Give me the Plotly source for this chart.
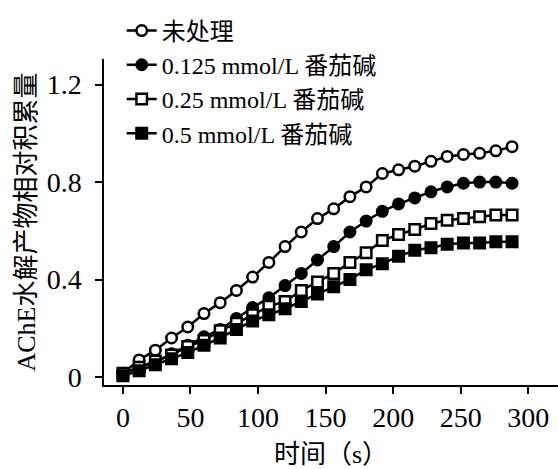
import plotly.graph_objects as go

time_s = [0, 12, 24, 36, 48, 60, 72, 84, 96, 108, 120, 132, 144, 156, 168, 180,
          192, 204, 216, 228, 240, 252, 264, 276, 288]

untreated = [0.015, 0.07, 0.11, 0.16, 0.205, 0.26, 0.305, 0.355, 0.41, 0.47, 0.535,
             0.595, 0.65, 0.69, 0.74, 0.78, 0.835, 0.85, 0.865, 0.885, 0.905, 0.913,
             0.918, 0.928, 0.945]
tomatine_0125 = [0.015, 0.04, 0.06, 0.095, 0.13, 0.165, 0.195, 0.24, 0.285, 0.325,
                 0.375, 0.425, 0.48, 0.535, 0.595, 0.64, 0.68, 0.71, 0.735, 0.76,
                 0.78, 0.795, 0.80, 0.80, 0.795]
tomatine_025 = [0.015, 0.04, 0.065, 0.09, 0.125, 0.15, 0.19, 0.22, 0.255, 0.29, 0.31,
                0.355, 0.39, 0.425, 0.47, 0.51, 0.56, 0.585, 0.605, 0.63, 0.643,
                0.65, 0.658, 0.665, 0.665]
tomatine_05 = [0.005, 0.025, 0.05, 0.075, 0.10, 0.13, 0.16, 0.195, 0.23, 0.255, 0.28,
               0.31, 0.34, 0.37, 0.40, 0.44, 0.465, 0.495, 0.52, 0.53, 0.545, 0.55,
               0.55, 0.555, 0.555]

series_names = ["未处理", "0.125 mmol/L 番茄碱", "0.25 mmol/L 番茄碱", "0.5 mmol/L 番茄碱"]
series_values = [untreated, tomatine_0125, tomatine_025, tomatine_05]
series_symbols = ["circle-open", "circle", "square-open", "square"]

x_ticks = [0, 50, 100, 150, 200, 250, 300]
y_ticks = [0, 0.4, 0.8, 1.2]
y_tick_labels = ["0", "0.4", "0.8", "1.2"]

x_title = "时间（s）"
y_title = "AChE水解产物相对积累量"

FONT = "Liberation Serif, Noto Sans CJK SC, serif"

fig = go.Figure()
for name, vals, sym in zip(series_names, series_values, series_symbols):
    is_open = sym.endswith("open")
    fig.add_trace(go.Scatter(
        x=time_s, y=vals, name=name, mode="lines+markers",
        line=dict(color="black", width=2.5),
        marker=dict(symbol=sym.replace("-open", ""), size=10.5,
                    color="white" if is_open else "black",
                    line=dict(color="black", width=2.5)),
    ))

fig.update_layout(
    width=558, height=469,
    margin=dict(l=104, r=0, t=59, b=84, autoexpand=False),
    paper_bgcolor="white", plot_bgcolor="white",
    font=dict(family=FONT, color="black", size=26),
    showlegend=True,
    legend=dict(x=0.039, y=1.155, xanchor="left", yanchor="top",
                bgcolor="rgba(0,0,0,0)", borderwidth=0,
                font=dict(size=24, family=FONT), itemwidth=30,
                tracegroupgap=0),
    xaxis=dict(range=[-14, 322], tickvals=x_ticks, showgrid=False, zeroline=False,
               automargin=True,
               showline=True, linecolor="black", linewidth=1.5,
               ticks="outside", ticklen=7, tickwidth=1.5, tickcolor="black",
               tickfont=dict(size=28, family=FONT),
               title=dict(text=x_title, font=dict(size=26, family=FONT), standoff=17)),
    yaxis=dict(range=[-0.033, 1.305], tickvals=y_ticks, ticktext=y_tick_labels,
               showgrid=False, zeroline=False, automargin=False,
               showline=True, linecolor="black", linewidth=1.5,
               ticks="outside", ticklen=7, tickwidth=1.5, tickcolor="black",
               ticklabelstandoff=8,
               tickfont=dict(size=28, family=FONT),
               title=dict(text=y_title, font=dict(size=26, family=FONT), standoff=4)),
)

fig.write_html("out.html", config={"displayModeBar": False},
               post_script="document.body.style.margin='0';document.body.style.overflow='hidden';")
